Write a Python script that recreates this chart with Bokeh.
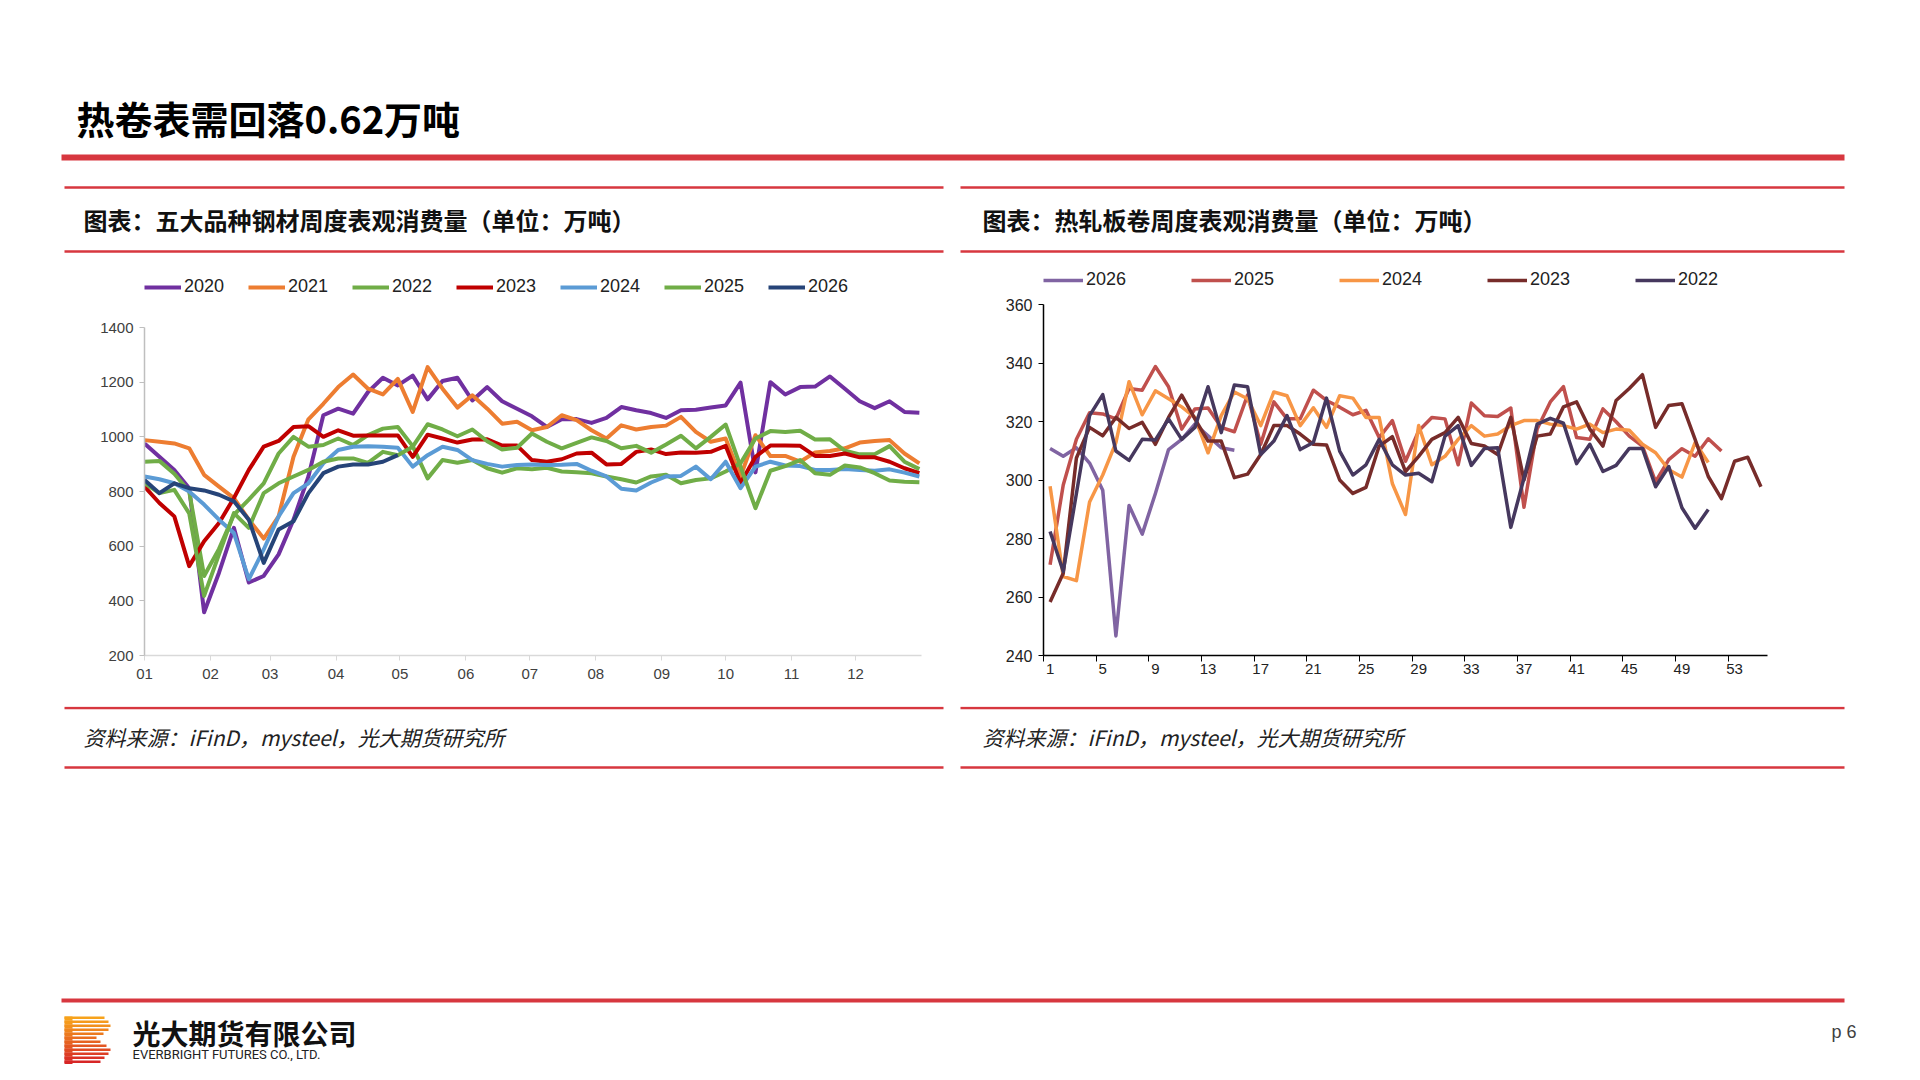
from bokeh.plotting import figure
from bokeh.models import Range1d, FixedTicker, Legend, LegendItem
from bokeh.layouts import column, row
from bokeh.embed import file_html
from bokeh.resources import INLINE
from bokeh.core.properties import value

CJK = "Noto Sans CJK SC"
NUM = "Liberation Sans"

# ---------------- data: left chart (weekly, 5 major steel products) ----------------
month_days = [0, 31, 59, 90, 120, 151, 181, 212, 243, 273, 304, 334]
month_labels = ["01", "02", "03", "04", "05", "06", "07", "08", "09", "10", "11", "12"]
week_idx = list(range(53))

s2020 = [976, 927, 879, 812, 358, 503, 667, 467, 491, 570, 697, 855, 1079, 1103, 1085, 1164, 1216, 1188,
         1224, 1137, 1204, 1216, 1133, 1182, 1130, 1103, 1075, 1036, 1064, 1065, 1051, 1069, 1109, 1097,
         1087, 1069, 1097, 1099, 1107, 1115, 1198, 870, 1200, 1155, 1182, 1184, 1221, 1176, 1130, 1105,
         1130, 1091, 1088]
s2021 = [988, 982, 976, 958, 861, 818, 776, 697, 628, 709, 927, 1064, 1121, 1182, 1228, 1176, 1155, 1212,
         1091, 1255, 1176, 1107, 1152, 1103, 1048, 1055, 1024, 1036, 1079, 1061, 1024, 994, 1042, 1027,
         1036, 1041, 1073, 1018, 982, 994, 855, 1006, 930, 930, 909, 943, 948, 958, 979, 985, 988, 939, 903]
s2022 = [909, 912, 865, 800, 491, 590, 715, 770, 830, 939, 1000, 964, 970, 994, 970, 1006, 1030, 1036,
         966, 848, 915, 905, 915, 885, 869, 885, 881, 887, 873, 870, 867, 855, 845, 833, 855, 861, 830,
         842, 848, 873, 903, 994, 1021, 1018, 1022, 990, 991, 949, 936, 936, 966, 909, 882]
s2023 = [818, 758, 709, 527, 618, 685, 776, 879, 964, 985, 1036, 1039, 1000, 1024, 1004, 1005, 1005, 1005,
         927, 1008, 994, 979, 990, 991, 968, 968, 915, 909, 918, 939, 942, 899, 901, 945, 954, 937, 943,
         942, 945, 967, 830, 927, 968, 968, 967, 930, 930, 939, 925, 925, 909, 885, 867]
s2024 = [855, 845, 830, 800, 752, 697, 648, 479, 588, 709, 794, 830, 903, 952, 964, 966, 964, 960, 891,
         933, 964, 952, 915, 901, 891, 897, 899, 897, 898, 901, 876, 855, 810, 804, 833, 855, 857, 891,
         845, 909, 812, 891, 909, 895, 893, 879, 879, 882, 879, 876, 881, 869, 855]
s2025 = [830, 794, 806, 720, 418, 570, 721, 667, 794, 830, 855, 879, 909, 921, 921, 905, 945, 933, 964,
         1046, 1027, 1002, 1027, 984, 954, 960, 1012, 982, 958, 978, 998, 985, 958, 967, 942, 972, 1004,
         958, 1000, 1045, 891, 739, 876, 893, 915, 867, 861, 895, 888, 867, 840, 836, 834]
s2026 = [842, 794, 830, 812, 804, 788, 764, 697, 539, 661, 691, 794, 867, 891, 899, 899, 909, 933]

left_years = ["2020", "2021", "2022", "2023", "2024", "2025", "2026"]
left_series = [s2020, s2021, s2022, s2023, s2024, s2025, s2026]
left_colors = ["#7030A0", "#ED7D31", "#70AD47", "#C00000", "#5B9BD5", "#70AD47", "#264478"]

# ---------------- data: right chart (weekly, hot rolled coil) ----------------
r_ticks = [1, 5, 9, 13, 17, 21, 25, 29, 33, 37, 41, 45, 49, 53]
h2026 = [310.8, 308.1, 311, 305.8, 296.5, 246.7, 291.3, 281.5, 295.4, 310.4, 313.9, 319.1, 315.1, 311, 310.2]
h2025 = [271, 298.3, 313.9, 323, 322.6, 320.9, 331.3, 330.7, 338.8, 331.9,
         317.4, 324.3, 324.6, 318, 316.5, 329, 312.2, 326.7, 320.9, 320.9,
         330.7, 327.2, 324.9, 322.3, 323.8, 314.5, 320.3, 306.4, 316.8, 321.4,
         320.9, 305.2, 326.3, 322, 321.7, 324.6, 290.7, 317.4, 326.7, 331.9,
         314.5, 313.9, 324.3, 319.9, 315, 311.6, 299.4, 307, 310.7, 308.1,
         314.1, 309.9]
h2024 = [297.9, 267, 265.6, 292.5, 301.7, 312.8, 333.6, 322.3, 330.5, 327.8,
         325, 321.4, 309.3, 322, 330.1, 327.8, 318.6, 330.1, 328.8, 318.6,
         324.7, 318, 328.8, 328, 321.4, 321.4, 298.8, 288.2, 318.6, 305.2,
         308.1, 313.9, 318.6, 315, 315.7, 318.6, 320.3, 320.3, 319.1, 318.6,
         317.4, 319.1, 316.2, 317.4, 317, 312.2, 309.3, 303.5, 301, 312.8, 306]
h2023 = [258.3, 268.1, 307.5, 318, 315.1, 321.4, 317.6, 319.7, 312.2, 321.4,
         329, 320.9, 313.3, 313.3, 300.8, 302, 308.7, 318.6, 318.6, 315.7,
         312.2, 312, 300, 295.4, 297.5, 311.6, 314.8, 302.9, 308.1, 313.9,
         316.2, 321.4, 312.5, 311.6, 308.7, 321.4, 300, 315, 315.7, 325,
         326.7, 317.4, 311.6, 327.2, 331.3, 336, 318, 325.5, 326.1, 313.9,
         301.2, 293.6, 306.4, 307.8, 297.7]
h2022 = [282.4, 268.7, 295.4, 322, 329.2, 309.9, 306.7, 313.9, 313.7, 320.9,
         313.9, 318, 331.9, 316.2, 332.5, 331.9, 308.7, 313.3, 322, 310.4,
         312.8, 328, 309.9, 301.7, 305.2, 313.9, 305.2, 301.7, 302.3, 299.4,
         315, 318.6, 305, 310.8, 311, 283.8, 300.6, 319.1, 321.1, 319.4,
         305.6, 312.2, 302.9, 305, 310.8, 310.8, 297.7, 304.6, 290.5, 283.5, 289.9]

right_years = ["2026", "2025", "2024", "2023", "2022"]
right_series = [h2026, h2025, h2024, h2023, h2022]
right_colors = ["#8064A2", "#C0504D", "#F79646", "#772C2A", "#46385E"]

RED = "#D7373F"


def deco_fig(w, h, y0):
    p = figure(width=w, height=h, x_range=Range1d(0, w), y_range=Range1d(y0 + h, y0),
               output_backend="svg", toolbar_location=None, min_border=0,
               x_axis_location=None, y_axis_location=None)
    p.grid.visible = False
    p.outline_line_color = None
    return p


# ---------------- header (page y 0..256) ----------------
hdr = deco_fig(1904, 256, 0)
hdr.text(x=[76], y=[117], text=["热卷表需回落0.62万吨"], text_font=value(CJK),
         text_font_size=value("38px"), text_font_style="bold", text_baseline="middle",
         text_color="#000000")
hdr.quad(left=[61], right=[1844], top=[154], bottom=[160], fill_color=RED, line_color=None)
hdr.segment(x0=[64, 960, 64, 960], x1=[943, 1844, 943, 1844], y0=[187, 187, 251, 251],
            y1=[187, 187, 251, 251], line_color=RED, line_width=2.5)
hdr.text(x=[83, 982], y=[219, 219],
         text=["图表：五大品种钢材周度表观消费量（单位：万吨）", "图表：热轧板卷周度表观消费量（单位：万吨）"],
         text_font=value(CJK), text_font_size=value("24px"), text_font_style="bold",
         text_baseline="middle", text_color="#111111")

# Both chart frames span page y 268..655 (frames are aligned in the row).
# ---------------- left chart (page y 256..706, x 0..952) ----------------
L_PX_PER_UNIT = 328 / 1200
pl = figure(width=952, height=450, x_range=Range1d(0, 365),
            y_range=Range1d(200, 1400 + 59 / L_PX_PER_UNIT),
            output_backend="svg", toolbar_location=None,
            min_border_left=144, min_border_right=31, min_border_top=12, min_border_bottom=51)
pl.grid.visible = False
pl.outline_line_color = None
litems = []
for yr, s, c in zip(left_years, left_series, left_colors):
    xs = [7 * w for w in week_idx[:len(s)]]
    r = pl.line(xs, s, line_color=c, line_width=4, line_join="round")
    litems.append(LegendItem(label=yr, renderers=[r]))
pl.yaxis.ticker = FixedTicker(ticks=[200, 400, 600, 800, 1000, 1200, 1400], minor_ticks=[])
pl.yaxis.bounds = (200, 1400)
pl.xaxis.ticker = FixedTicker(ticks=month_days, minor_ticks=[])
pl.xaxis.major_label_overrides = {d: lab for d, lab in zip(month_days, month_labels)}
for ax in (pl.xaxis[0], pl.yaxis[0]):
    ax.axis_line_color = "#BFBFBF"
    ax.axis_line_width = 1.5
    ax.major_tick_line_color = "#BFBFBF"
    ax.major_tick_in = 0
    ax.major_tick_out = 5
    ax.minor_tick_line_color = None
    ax.major_label_text_font = NUM
    ax.major_label_text_font_size = "15px"
    ax.major_label_text_color = "#404040"
    ax.major_label_standoff = 6
pl.xaxis.axis_line_color = "#D9D9D9"
pl.xaxis.major_tick_line_color = "#D9D9D9"
pl.xaxis.major_label_standoff = 8
lleg = Legend(items=litems, location=(0, 358), orientation="horizontal",
              glyph_width=37, glyph_height=20, label_height=20, label_width=48,
              label_standoff=3, spacing=16, padding=0, margin=0,
              border_line_color=None, background_fill_alpha=0,
              label_text_font=NUM, label_text_font_size="18px", label_text_color="#222222")
pl.add_layout(lleg)

# ---------------- right chart (page y 256..706, x 952..1904) ----------------
R_PX_PER_UNIT = 351 / 120
pr = figure(width=952, height=450, x_range=Range1d(0.5, 55.5),
            y_range=Range1d(240, 360 + 36 / R_PX_PER_UNIT),
            output_backend="svg", toolbar_location=None,
            min_border_left=91, min_border_right=137, min_border_top=12, min_border_bottom=51)
pr.grid.visible = False
pr.outline_line_color = None
ritems = []
for yr, s, c in zip(right_years, right_series, right_colors):
    xs = list(range(1, len(s) + 1))
    r = pr.line(xs, s, line_color=c, line_width=3.5, line_join="round")
    ritems.append(LegendItem(label=yr, renderers=[r]))
pr.yaxis.ticker = FixedTicker(ticks=[240, 260, 280, 300, 320, 340, 360], minor_ticks=[])
pr.yaxis.bounds = (240, 360)
pr.xaxis.ticker = FixedTicker(ticks=r_ticks, minor_ticks=[t - 0.5 for t in r_ticks])
for ax in (pr.xaxis[0], pr.yaxis[0]):
    ax.axis_line_color = "#000000"
    ax.axis_line_width = 1.5
    ax.major_tick_line_color = "#000000"
    ax.major_tick_in = 0
    ax.major_tick_out = 5
    ax.minor_tick_line_color = None
    ax.major_label_text_font = NUM
    ax.major_label_text_font_size = "15px"
    ax.major_label_text_color = "#222222"
    ax.major_label_standoff = 6
pr.yaxis.major_label_text_font_size = "16px"
pr.xaxis.major_tick_line_color = None
pr.xaxis.minor_tick_line_color = "#000000"
pr.xaxis.minor_tick_out = 6
pr.xaxis.minor_tick_in = 0
pr.xaxis.major_tick_out = 6
pr.xaxis.major_label_standoff = 2
rleg = Legend(items=ritems, location=(0, 365), orientation="horizontal",
              glyph_width=40, glyph_height=20, label_height=20, label_width=50,
              label_standoff=3, spacing=55, padding=0, margin=0,
              border_line_color=None, background_fill_alpha=0,
              label_text_font=NUM, label_text_font_size="18px", label_text_color="#222222")
pr.add_layout(rleg)

# ---------------- footer (page y 706..1064) ----------------
ftr = deco_fig(1904, 358, 706)
ftr.segment(x0=[64, 960, 64, 960], x1=[943, 1844, 943, 1844], y0=[707.5, 707.5, 767, 767],
            y1=[707.5, 707.5, 767, 767], line_color=RED, line_width=2.5)
ftr.text(x=[83, 982], y=[736, 736],
         text=["资料来源：iFinD，mysteel，光大期货研究所", "资料来源：iFinD，mysteel，光大期货研究所"],
         text_font=value(CJK), text_font_size=value("21px"), text_font_style="italic",
         text_baseline="middle", text_color="#222222")
ftr.quad(left=[61], right=[1844], top=[998], bottom=[1002], fill_color=RED, line_color=None)
# logo
logo_cols = ["#F7A21B", "#F59A1C", "#F2901D", "#EF851E", "#EC7A1F", "#E96E20",
             "#E66221", "#E35622", "#E04A23", "#DD3E24", "#DA3225", "#D72626"]
logo_right = [104, 108, 110, 108, 103, 96, 100, 106, 110, 108, 104, 100]
logo_top = [1016 + 4 * k for k in range(12)]
ftr.quad(left=[64] * 12, right=logo_right, top=logo_top, bottom=[t + 2.6 for t in logo_top],
         fill_color=logo_cols, line_color=None)
ftr.quad(left=[64] * 12, right=[72] * 12, top=logo_top, bottom=[t + 4 for t in logo_top],
         fill_color=logo_cols, line_color=None)
ftr.text(x=[132], y=[1032], text=["光大期货有限公司"], text_font=value(CJK),
         text_font_size=value("28px"), text_font_style="bold", text_baseline="middle",
         text_color="#111111")
ftr.text(x=[132], y=[1054], text=["EVERBRIGHT FUTURES CO., LTD."], text_font=value("Roboto"),
         text_font_size=value("13px"), text_baseline="middle", text_color="#222222")
ftr.text(x=[1831], y=[1031], text=["p 6"], text_font=value(NUM),
         text_font_size=value("18px"), text_baseline="middle", text_color="#404040")

page = column(hdr, row(pl, pr), ftr)
open("out.html", "w").write(file_html(page, INLINE))
